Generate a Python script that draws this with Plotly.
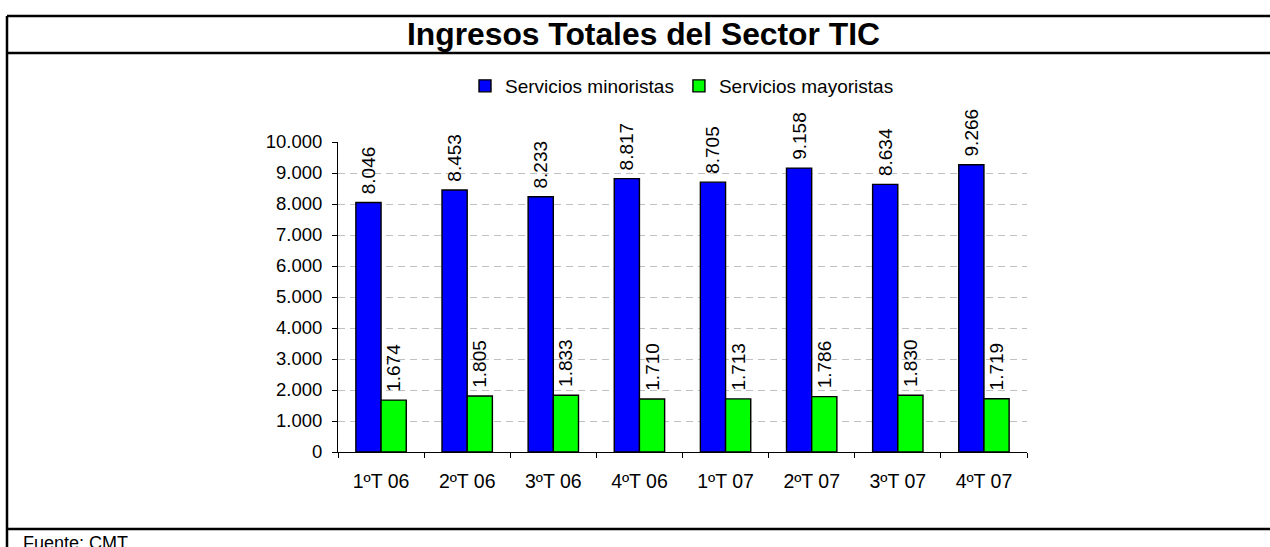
import plotly.graph_objects as go

categories = ["1ºT 06", "2ºT 06", "3ºT 06", "4ºT 06", "1ºT 07", "2ºT 07", "3ºT 07", "4ºT 07"]
minoristas = [8046, 8453, 8233, 8817, 8705, 9158, 8634, 9266]
mayoristas = [1674, 1805, 1833, 1710, 1713, 1786, 1830, 1719]
tick_vals = [0, 1000, 2000, 3000, 4000, 5000, 6000, 7000, 8000, 9000, 10000]

W, H = 1270, 547
L, R, T, B = 338, 1027, 142, 452  # plot area in pixels
FONT = "Arial, Liberation Sans, sans-serif"


def px(x):
    return (x - L) / (R - L)


def py(y):
    return (B - y) / (B - T)


label_tpl = "\u00a0%{y:,.0f}"

fig = go.Figure()
fig.add_trace(go.Bar(
    x=categories, y=minoristas, name="Servicios minoristas",
    marker=dict(color="#0000FF", line=dict(color="black", width=1.4)),
    texttemplate=label_tpl, textposition="outside", textangle=-90,
    textfont=dict(size=19, color="black", family=FONT),
    constraintext="none", cliponaxis=False,
))
fig.add_trace(go.Bar(
    x=categories, y=mayoristas, name="Servicios mayoristas",
    marker=dict(color="#00FF00", line=dict(color="black", width=1.4)),
    texttemplate=label_tpl, textposition="outside", textangle=-90,
    textfont=dict(size=19, color="black", family=FONT),
    constraintext="none", cliponaxis=False,
))

shapes = []
line = dict(color="black", width=2.5)
shapes.append(dict(type="line", xref="paper", yref="paper", x0=px(7), x1=px(1275), y0=py(16), y1=py(16), line=line))
shapes.append(dict(type="line", xref="paper", yref="paper", x0=px(7), x1=px(1275), y0=py(53), y1=py(53), line=line))
shapes.append(dict(type="line", xref="paper", yref="paper", x0=px(7), x1=px(1275), y0=py(529), y1=py(529), line=line))
shapes.append(dict(type="line", xref="paper", yref="paper", x0=px(7), x1=px(7), y0=py(16), y1=py(560), line=line))

annotations = [
    dict(text="<b>Ingresos Totales del Sector TIC</b>", xref="paper", yref="paper",
         x=px(643), y=py(34), xanchor="center", yanchor="middle", showarrow=False,
         font=dict(size=31.8, color="black", family=FONT)),
    dict(text="Fuente: CMT", xref="paper", yref="paper",
         x=px(21), y=py(531), xanchor="left", yanchor="top", showarrow=False,
         font=dict(size=18, color="black", family=FONT)),
]

fig.update_layout(
    width=W, height=H,
    margin=dict(l=L, r=W - R, t=T, b=H - B, pad=0),
    paper_bgcolor="white", plot_bgcolor="white",
    font=dict(family=FONT, size=18, color="black"),
    barmode="group", bargap=0.415, bargroupgap=0,
    separators=",.",
    showlegend=True,
    legend=dict(orientation="h", x=px(465), y=py(86), xanchor="left", yanchor="middle",
                font=dict(size=19, color="black", family=FONT), bgcolor="rgba(0,0,0,0)",
                itemwidth=30, tracegroupgap=0),
    shapes=shapes, annotations=annotations,
    xaxis=dict(showline=True, linecolor="black", linewidth=1, ticks="outside", ticklen=5,
               tickcolor="black", tickson="boundaries", showgrid=False,
               ticklabelstandoff=12,
               tickfont=dict(size=19.5, color="black", family=FONT)),
    yaxis=dict(range=[0, 10000], tickvals=tick_vals, tickformat=",d",
               showline=True, linecolor="black", linewidth=1, ticks="outside", ticklen=5,
               tickcolor="black", showgrid=True, gridcolor="#c0c0c0", griddash="7px,5px",
               gridwidth=1, zeroline=False, ticklabelstandoff=6,
               tickfont=dict(size=18.5, color="black", family=FONT)),
)

fig.write_html("out.html", config={"displayModeBar": False},
               post_script="document.body.style.margin='0px';")
